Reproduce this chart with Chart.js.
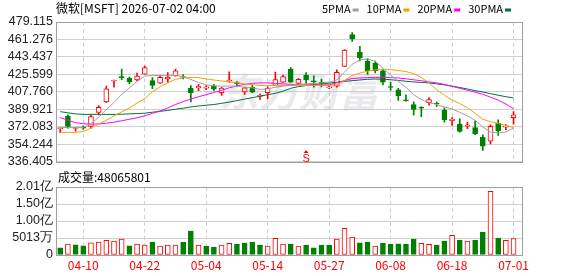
<!DOCTYPE html>
<html>
<head>
<meta charset="utf-8">
<script src="https://cdn.jsdelivr.net/npm/chart.js@4.4.1/dist/chart.umd.min.js"></script>
<style>
  html, body { margin: 0; padding: 0; background: #fff; }
  #wrap { position: relative; width: 578px; height: 276px; overflow: hidden; }
  #price { position: absolute; left: 0; top: 0; }
  #vol { position: absolute; left: 0; top: 166px; }
</style>
</head>
<body>
<div id="wrap">
  <canvas id="price" width="578" height="172"></canvas>
  <canvas id="vol" width="578" height="110"></canvas>
</div>
<script>
// 微软 日K + 均线 + 成交量

const title = '微软[MSFT] 2026-07-02 04:00';

const dates = [
  '04-07','04-08','04-09','04-10','04-13','04-14','04-15','04-16','04-17','04-20',
  '04-21','04-22','04-23','04-24','04-27','04-28','04-29','04-30','05-01','05-04',
  '05-05','05-06','05-07','05-08','05-11','05-12','05-13','05-14','05-15','05-18',
  '05-19','05-20','05-21','05-22','05-26','05-27','05-28','05-29','06-01','06-02',
  '06-03','06-04','06-05','06-08','06-09','06-10','06-11','06-12','06-15','06-16',
  '06-17','06-18','06-22','06-23','06-24','06-25','06-26','06-29','06-30','07-01'
];

const opens = [
  370.0,382.9,370.2,371.2,372.3,386.6,397.4,418.8,423.3,421.5,
  419.8,425.8,419.3,416.5,420.8,424.1,423.3,411.3,411.8,411.3,
  413.8,406.8,418.8,416.8,407.5,412.3,403.0,406.8,414.3,417.5,
  430.9,416.3,424.8,418.3,417.5,411.8,413.5,433.6,466.3,448.3,
  439.2,436.9,429.2,412.8,409.8,399.2,394.7,391.7,396.7,396.0,
  388.9,378.3,374.6,372.6,371.1,361.2,357.2,375.6,371.6,381.3
];
const highs = [
  370.8,384.1,371.2,372.8,383.6,393.7,413.5,419.8,430.9,422.8,
  426.9,433.9,422.3,424.4,427.4,430.9,425.3,414.1,415.3,414.1,
  415.3,412.3,428.2,418.1,412.3,414.8,405.7,412.8,427.9,424.9,
  432.6,421.3,427.4,424.1,420.8,413.5,430.2,451.0,468.3,454.3,
  441.6,439.2,430.9,417.3,411.3,404.7,397.4,392.4,401.7,397.2,
  391.4,381.3,380.1,376.6,377.9,363.8,373.9,379.1,374.1,387.4
];
const lows = [
  365.8,370.6,367.5,369.6,370.6,384.1,396.7,412.5,420.1,415.8,
  418.8,425.4,410.8,416.3,417.5,423.8,420.8,397.4,408.8,409.8,
  408.8,404.0,417.5,414.1,405.0,406.8,400.0,400.7,414.1,417.3,
  417.3,415.5,415.3,412.5,412.8,410.8,412.5,433.4,459.3,439.2,
  425.4,426.9,414.8,409.1,399.0,398.2,383.9,382.3,394.0,392.7,
  376.6,373.3,366.3,370.1,363.8,347.8,354.5,363.2,368.9,374.6
];
const closes = [
  370.6,372.3,370.8,370.5,382.3,391.7,410.8,419.3,422.0,417.8,
  423.8,432.6,414.3,422.5,422.8,429.2,422.3,406.8,413.3,412.8,
  410.3,411.5,419.3,416.1,411.8,407.3,403.8,411.3,420.3,423.3,
  417.5,420.5,420.1,417.8,416.3,412.8,427.5,450.5,461.7,442.4,
  429.0,429.4,417.5,412.1,403.7,398.4,389.7,391.0,399.7,395.2,
  378.9,379.6,367.2,373.8,364.5,352.2,372.3,367.6,372.6,384.1
];
const prevClose = 372.0; // 窗口前一日收盘

const ma5 = [
  371.3,371.1,371.1,371.3,375.1,381.6,389.7,396.7,405.2,411.8,
  418.3,423.8,424.3,424.3,424.1,424.3,423.3,420.3,417.3,414.8,
  413.8,413.5,413.6,413.3,412.5,411.8,410.1,410.8,412.3,413.5,
  414.3,415.3,415.8,416.3,416.8,417.3,419.8,427.9,435.9,440.4,
  441.4,438.9,431.9,424.8,418.3,412.3,404.7,399.7,396.7,394.7,
  392.2,390.2,386.6,383.1,378.6,371.6,366.6,365.5,366.6,370.6
];
const ma10 = [
  366.2,366.2,366.2,367.0,370.6,374.6,378.6,383.1,387.2,391.2,
  396.2,400.7,407.7,412.8,416.8,420.5,422.0,422.5,422.3,420.8,
  419.8,418.8,417.8,416.8,415.8,414.8,414.1,414.1,414.1,414.1,
  414.1,414.1,414.1,414.3,414.3,414.3,414.8,419.3,424.3,426.9,
  428.9,430.2,430.6,430.4,429.4,428.4,426.3,422.3,416.8,409.8,
  404.2,399.2,395.7,391.4,385.6,379.6,377.1,375.3,373.3,371.1
];
const ma20 = [
  381.3,378.6,376.1,375.1,374.6,374.8,375.6,376.6,378.1,379.6,
  381.1,383.1,385.6,388.2,391.2,394.7,397.7,400.2,402.7,404.7,
  407.2,409.1,411.8,413.8,415.3,416.3,416.8,416.8,416.3,415.8,
  415.3,414.8,414.8,414.8,414.8,414.8,416.8,419.3,421.3,421.8,
  422.3,422.5,422.5,422.3,421.8,421.0,420.0,419.0,417.8,416.8,
  415.3,413.3,411.3,409.3,407.3,405.2,402.2,399.2,395.2,390.2
];
const ma30 = [
  387.4,386.2,385.1,384.6,384.6,384.6,384.6,384.6,384.8,385.1,
  385.4,385.8,386.8,387.7,388.7,389.9,390.9,392.2,393.2,394.0,
  394.7,395.9,397.2,398.7,400.2,401.7,403.2,404.7,406.2,408.3,
  411.3,413.0,414.1,415.0,415.8,416.6,417.5,418.3,419.1,419.8,
  420.5,420.8,420.6,420.1,419.3,418.5,417.8,417.3,416.8,415.8,
  414.8,413.5,412.1,410.6,408.9,407.5,405.8,404.2,402.7,401.4
];

const volumes = [
  21500000,32300000,30300000,27400000,36200000,38200000,43100000,41100000,47000000,27400000,
  32300000,29400000,38200000,26400000,29400000,29400000,38200000,70500000,29400000,26400000,
  23500000,29400000,34300000,32300000,35200000,38200000,29400000,26400000,48900000,32300000,
  32300000,26400000,29400000,21500000,29400000,29400000,47000000,78300000,52800000,36200000,
  38200000,26400000,34300000,31300000,33300000,32300000,47000000,34300000,31300000,29400000,
  41100000,57700000,44000000,41100000,44000000,67500000,187900000,49900000,43100000,48065801
];

const priceTicks = [336.405, 354.244, 372.083, 389.921, 407.760, 425.599, 443.437, 461.276, 479.115];
const volTicks = [0, 50130000, 100260000, 150390000, 200520000];
const volTickLabels = ['0', '5013万', '1.00亿', '1.50亿', '2.01亿'];
const dateTickIdx = [3, 11, 19, 27, 35, 43, 51, 59];
const maNames = ['5PMA', '10PMA', '20PMA', '30PMA'];
const eventIdx = 32;
const eventLabel = 'S';

const RED = '#ff0000';
const GREEN = '#008000';
const MA_COLORS = ['#a0a0a0', '#f5a000', '#ff00ff', '#00703c'];
const GRID = '#d0d0d0';
const FRAME = '#a0a0a0';
const TXT = '#222';
const NUM_FONT = { family: 'Arial, "Liberation Sans", sans-serif', size: 12.5 };
const CJK = '"Noto Sans CJK SC", "Liberation Sans", sans-serif';
const X_MIN = -0.55, X_MAX = 60.1;

const idx = dates.map((_, i) => i);
const isUp = i => closes[i] >= opens[i];
const volUp = i => closes[i] > (i ? closes[i - 1] : prevClose);

function frame(chart) {
  const { ctx, chartArea: a } = chart;
  ctx.save();
  ctx.strokeStyle = FRAME;
  ctx.lineWidth = 1;
  ctx.strokeRect(Math.round(a.left) + 0.5, Math.round(a.top) + 0.5,
    Math.round(a.right - a.left), Math.round(a.bottom - a.top));
  ctx.restore();
}

const priceDecor = {
  id: 'priceDecor',
  beforeDatasetsDraw(chart) {
    const { ctx, chartArea: a } = chart;
    ctx.save();
    ctx.font = 'italic bold 40px ' + CJK;
    ctx.fillStyle = 'rgba(200,200,210,0.38)';
    ctx.textAlign = 'center';
    ctx.textBaseline = 'middle';
    ctx.fillText('东方财富', (a.left + a.right) / 2 + 10, 92);
    ctx.restore();
  },
  afterDraw(chart) {
    const { ctx, chartArea: a, scales } = chart;
    frame(chart);
    ctx.save();
    ctx.fillStyle = '#000';
    ctx.font = '12px ' + CJK;
    ctx.textBaseline = 'middle';
    ctx.fillText(title, 56, 8.5);
    // 图例：从右往左排，末端对齐 511
    ctx.font = '11px ' + CJK;
    const widths = maNames.map(n => ctx.measureText(n).width);
    let x = 511 - widths.reduce((s, w) => s + w + 8, 0) - 3 * 8;
    maNames.forEach((n, k) => {
      ctx.fillStyle = '#000';
      ctx.fillText(n, x, 9);
      x += widths[k] + 2;
      ctx.fillStyle = MA_COLORS[k];
      ctx.fillRect(x, 8.5, 6, 3);
      x += 6 + 8;
    });
    // 事件标记
    const ex = scales.x.getPixelForValue(eventIdx);
    ctx.fillStyle = RED;
    ctx.beginPath();
    ctx.moveTo(ex, a.bottom - 11.5);
    ctx.lineTo(ex - 2.5, a.bottom - 8.5);
    ctx.lineTo(ex + 2.5, a.bottom - 8.5);
    ctx.closePath();
    ctx.fill();
    ctx.font = '11px "Liberation Sans", Arial, sans-serif';
    ctx.textAlign = 'center';
    ctx.textBaseline = 'alphabetic';
    ctx.fillText(eventLabel, ex, a.bottom + 0.5);
    ctx.restore();
  }
};

const volDecor = {
  id: 'volDecor',
  afterDraw(chart) {
    const { ctx, chartArea: a } = chart;
    frame(chart);
    ctx.save();
    ctx.fillStyle = '#000';
    ctx.font = '12px ' + CJK;
    ctx.textBaseline = 'middle';
    ctx.fillText('成交量:' + volumes[volumes.length - 1], 58, a.top - 9.5);
    ctx.restore();
  }
};

const maSets = [ma5, ma10, ma20, ma30].map((arr, k) => ({
  type: 'line',
  label: maNames[k],
  data: idx.map(i => ({ x: i, y: arr[i] })),
  borderColor: MA_COLORS[k],
  borderWidth: 1,
  pointRadius: 0,
  tension: 0,
  order: 1
}));

new Chart(document.getElementById('price'), {
  type: 'bar',
  data: {
    datasets: [
      ...maSets,
      {
        label: 'body',
        data: idx.map(i => ({ x: i, y: [opens[i], closes[i]] })),
        backgroundColor: c => isUp(c.dataIndex) ? '#fff' : GREEN,
        borderColor: c => isUp(c.dataIndex) ? RED : GREEN,
        borderWidth: 1,
        borderSkipped: false,
        barThickness: 5,
        minBarLength: 1,
        grouped: false,
        order: 2
      },
      {
        label: 'wick',
        data: idx.map(i => ({ x: i, y: [lows[i], highs[i]] })),
        backgroundColor: c => isUp(c.dataIndex) ? RED : GREEN,
        borderWidth: 0,
        barThickness: 1,
        grouped: false,
        order: 3
      }
    ]
  },
  options: {
    responsive: false,
    devicePixelRatio: 1,
    animation: false,
    layout: { padding: { left: 0, right: 56, top: 22, bottom: 8 } },
    plugins: { legend: { display: false }, tooltip: { enabled: false } },
    scales: {
      x: {
        type: 'linear', min: X_MIN, max: X_MAX, offset: false,
        afterBuildTicks: s => { s.ticks = dateTickIdx.map(v => ({ value: v })); },
        afterFit: s => { s.height = 0; },
        ticks: { display: false },
        grid: { color: GRID, drawTicks: false, offset: false },
        border: { display: false, dash: [4, 3] }
      },
      y: {
        min: priceTicks[0], max: priceTicks[priceTicks.length - 1],
        afterBuildTicks: s => { s.ticks = priceTicks.map(v => ({ value: v })); },
        afterFit: s => { s.width = 56; },
        ticks: { callback: v => v.toFixed(3), color: TXT, font: NUM_FONT, padding: 3, autoSkip: false },
        grid: { color: GRID, drawTicks: false },
        border: { display: false }
      }
    }
  },
  plugins: [priceDecor]
});

new Chart(document.getElementById('vol'), {
  type: 'bar',
  data: {
    datasets: [{
      label: '成交量',
      data: idx.map(i => ({ x: i, y: volumes[i] })),
      backgroundColor: c => volUp(c.dataIndex) ? '#fff' : GREEN,
      borderColor: c => volUp(c.dataIndex) ? RED : GREEN,
      borderWidth: 1,
      borderSkipped: false,
      barThickness: 5,
      grouped: false
    }]
  },
  options: {
    responsive: false,
    devicePixelRatio: 1,
    animation: false,
    layout: { padding: { left: 0, right: 56, top: 21, bottom: 0 } },
    plugins: { legend: { display: false }, tooltip: { enabled: false } },
    scales: {
      x: {
        type: 'linear', min: X_MIN, max: X_MAX, offset: false,
        afterBuildTicks: s => { s.ticks = dateTickIdx.map(v => ({ value: v })); },
        afterFit: s => { s.height = 21; },
        ticks: {
          callback: v => dates[v] || '',
          color: RED, autoSkip: false, maxRotation: 0, padding: 3,
          font: { family: CJK, size: 12 }
        },
        grid: { color: GRID, drawTicks: false, offset: false },
        border: { display: false, dash: [4, 3] }
      },
      y: {
        min: 0, max: volTicks[volTicks.length - 1],
        afterBuildTicks: s => { s.ticks = volTicks.map(v => ({ value: v })); },
        afterFit: s => { s.width = 56; },
        ticks: { callback: (v, i) => volTickLabels[i], color: TXT, font: NUM_FONT, padding: 3, autoSkip: false },
        grid: { color: GRID, drawTicks: false },
        border: { display: false }
      }
    }
  },
  plugins: [volDecor]
});
</script>
</body>
</html>
